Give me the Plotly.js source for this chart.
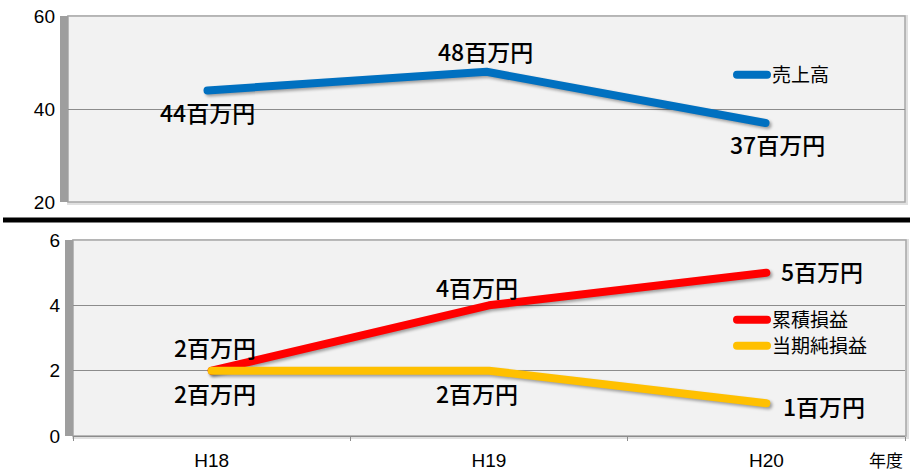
<!DOCTYPE html>
<html>
<head>
<meta charset="utf-8">
<script src="https://cdn.plot.ly/plotly-3.0.1.min.js"></script>
<style>
  html, body { margin: 0; padding: 0; background: #fff; }
  #chart { width: 910px; height: 471px; }
  .js-line { stroke-linecap: round !important; stroke-linejoin: round !important; }
  .scatterlayer .trace { filter: drop-shadow(2px 2px 1.5px rgba(0,0,0,0.35)); }
</style>
</head>
<body>
<div id="chart"></div>
<script>
// ---- data ----
const years = ['H18', 'H19', 'H20'];
const sales = [44, 48, 37];          // 売上高
const cumulative = [2, 4, 5];        // 累積損益
const netIncome = [2, 2, 1];         // 当期純損益
const unitLabel = '百万円';
const xAxisUnit = '年度';

// ---- label placement (pixels relative to each point) ----
const salesLabelPlace = [
  {xa: 'center', dx: 0, dy: -21.5},
  {xa: 'center', dx: -1.5, dy: 20.5},
  {xa: 'center', dx: 11.5, dy: -20.6}
];
const cumLabelPlace = [
  {xa: 'center', dx: 3, dy: 24},
  {xa: 'center', dx: -12, dy: 18},
  {xa: 'left', dx: 13, dy: 2}
];
const netLabelPlace = [
  {xa: 'center', dx: 3, dy: -22},
  {xa: 'center', dx: -12, dy: -22},
  {xa: 'left', dx: 15, dy: -3}
];

const W = 910, H = 471;
const px = v => v / W;
const py = v => 1 - v / H;

const jpFont = '"Noto Sans CJK JP", "Noto Sans", sans-serif';
const tickFont = {family: '"Liberation Sans", Arial, sans-serif', size: 19, color: '#000'};

const traces = [
  {x: years, y: sales, name: '売上高', type: 'scatter', mode: 'lines',
   xaxis: 'x2', yaxis: 'y', legend: 'legend',
   line: {color: '#0070c0', width: 8}},
  {x: years, y: cumulative, name: '累積損益', type: 'scatter', mode: 'lines',
   xaxis: 'x', yaxis: 'y2', legend: 'legend2',
   line: {color: '#ff0000', width: 8}},
  {x: years, y: netIncome, name: '当期純損益', type: 'scatter', mode: 'lines',
   xaxis: 'x', yaxis: 'y2', legend: 'legend3',
   line: {color: '#ffc000', width: 8}}
];

function makeLabels(vals, place, xref, yref) {
  return vals.map((v, i) => ({
    x: years[i], y: v, xref: xref, yref: yref,
    text: v + unitLabel, showarrow: false,
    xanchor: place[i].xa, yanchor: 'middle',
    xshift: place[i].dx, yshift: place[i].dy,
    font: {family: jpFont, size: 23, color: '#000', weight: 500}
  }));
}

const annotations = []
  .concat(makeLabels(sales, salesLabelPlace, 'x2', 'y'))
  .concat(makeLabels(cumulative, cumLabelPlace, 'x', 'y2'))
  .concat(makeLabels(netIncome, netLabelPlace, 'x', 'y2'))
  .concat([{
    x: px(905), y: py(459), xref: 'paper', yref: 'paper',
    xanchor: 'right', yanchor: 'middle', showarrow: false,
    text: xAxisUnit, font: {family: jpFont, size: 17, color: '#000'}
  }]);

function rect(x0, y0, x1, y1, fill, lineColor, lw) {
  return {type: 'rect', xref: 'paper', yref: 'paper', layer: 'below',
    x0: px(x0), x1: px(x1), y0: py(y1), y1: py(y0),
    fillcolor: fill, line: {color: lineColor || 'rgba(0,0,0,0)', width: lw || 0}};
}

const shapes = [
  // top panel
  rect(67, 15, 908, 205, '#e0e0e0'),
  rect(68, 16, 905, 202, '#f2f2f2', '#a6a6a6', 1.5),
  rect(60, 16, 68, 202, '#9e9e9e'),
  // bottom panel
  rect(72, 239, 909, 439, '#e0e0e0'),
  rect(73, 240, 906, 436, '#f2f2f2', '#a6a6a6', 1.5),
  rect(65, 240, 73, 436, '#9e9e9e'),
  // separator
  {type: 'line', xref: 'paper', yref: 'paper', layer: 'above',
   x0: px(3), x1: 1, y0: py(220), y1: py(220),
   line: {color: '#000', width: 5}}
];

const legendCommon = {
  xanchor: 'left', yanchor: 'middle', bgcolor: 'rgba(0,0,0,0)', borderwidth: 0,
  font: {family: jpFont, size: 19, color: '#000'}
};

const layout = {
  width: W, height: H,
  margin: {l: 0, r: 0, t: 0, b: 0},
  paper_bgcolor: '#ffffff',
  plot_bgcolor: 'rgba(0,0,0,0)',
  showlegend: true,
  legend: Object.assign({x: px(732), y: py(75)}, legendCommon),
  legend2: Object.assign({x: px(732), y: py(320)}, legendCommon),
  legend3: Object.assign({x: px(732), y: py(346)}, legendCommon),
  xaxis: {
    domain: [px(73), px(905)], anchor: 'y2', type: 'category',
    range: [-0.5, 2.5], showgrid: false, zeroline: false,
    showline: true, linecolor: '#8c8c8c', linewidth: 1,
    ticks: 'outside', tickson: 'boundaries', ticklen: 4, tickcolor: '#8c8c8c',
    ticklabelstandoff: 7,
    tickfont: Object.assign({}, tickFont, {size: 19})
  },
  xaxis2: {
    domain: [px(68), px(905)], anchor: 'y', type: 'category',
    range: [-0.5, 2.5], showgrid: false, zeroline: false,
    showline: false, showticklabels: false, ticks: ''
  },
  yaxis: {
    domain: [py(202), py(16)], anchor: 'x2', range: [20, 60], dtick: 20,
    showgrid: true, gridcolor: '#8c8c8c', gridwidth: 1, zeroline: false,
    showline: false, ticks: '', ticklabelstandoff: 12, tickfont: tickFont
  },
  yaxis2: {
    domain: [py(436), py(240)], anchor: 'x', range: [0, 6], dtick: 2,
    showgrid: true, gridcolor: '#8c8c8c', gridwidth: 1, zeroline: false,
    showline: false, ticks: '', ticklabelstandoff: 12, tickfont: tickFont
  },
  shapes: shapes,
  annotations: annotations
};

Plotly.newPlot('chart', traces, layout, {displayModeBar: false, staticPlot: true});
</script>
</body>
</html>
